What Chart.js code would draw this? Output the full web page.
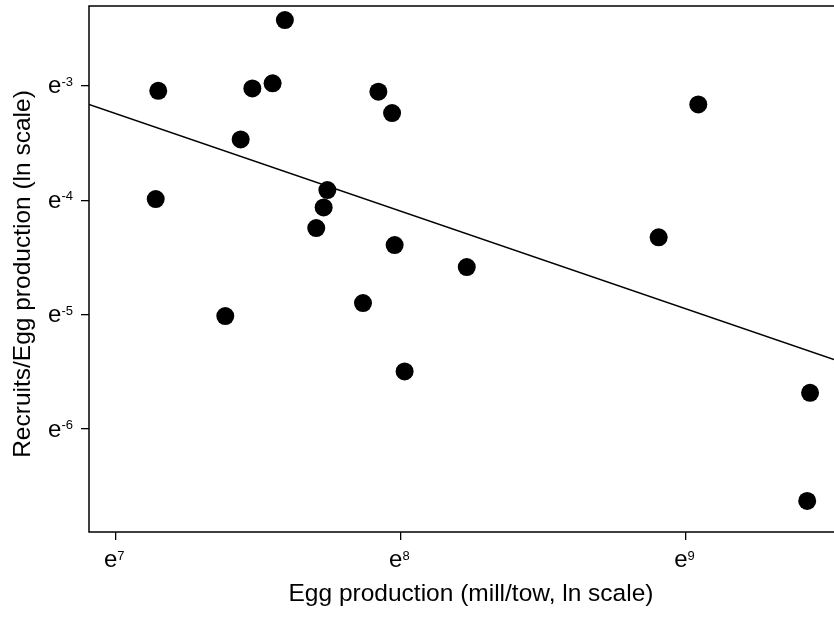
<!DOCTYPE html>
<html lang="en">
<head>
    <meta charset="UTF-8">
    <title>Recruits per egg vs egg production</title>
    <script src="https://cdn.jsdelivr.net/npm/chart.js"></script>
    <style>
        html, body { margin: 0; padding: 0; background: #fff; }
        #wrap { width: 834px; height: 620px; }
    </style>
</head>
<body>
    <div id="wrap"><canvas id="eggChart"></canvas></div>

    <script>
        // values are natural logs (axes are ln scale)
        const lnEggs = [7.593, 7.149, 7.479, 7.550, 7.438, 7.140, 7.921, 7.969, 7.742, 7.729,
                        7.703, 7.978, 8.231, 7.867, 8.013, 9.043, 8.904, 9.435, 9.425, 7.384];
        const lnRecruitsPerEgg = [-2.426, -3.044, -3.023, -2.979, -3.469, -3.990, -3.052, -3.239, -3.912, -4.063,
                                  -4.244, -4.392, -4.585, -4.899, -5.497, -3.163, -4.325, -5.684, -6.628, -5.013];

        // fitted line, read at both ends of the x range
        const fitX = [6.906, 9.519];
        const fitY = [-3.163, -5.392];

        const xTicks = [7, 8, 9];
        const yTicks = [-6, -5, -4, -3];

        const FONT = "'Liberation Sans', Arial, sans-serif";

        const points = lnEggs.map((x, i) => ({ x: x, y: lnRecruitsPerEgg[i] }));
        const fitLine = fitX.map((x, i) => ({ x: x, y: fitY[i] }));

        function drawPower(ctx, base, exp, xRight, xCenter, baseline) {
            ctx.font = "24px " + FONT;
            const wb = ctx.measureText(base).width;
            ctx.font = "13px " + FONT;
            const we = ctx.measureText(exp).width;
            let x0 = xRight !== null ? xRight - wb - we : xCenter - (wb + we) / 2;
            ctx.textAlign = "left";
            ctx.textBaseline = "alphabetic";
            ctx.font = "24px " + FONT;
            ctx.fillText(base, x0, baseline);
            ctx.font = "13px " + FONT;
            ctx.fillText(exp, x0 + wb, baseline - 7.5);
        }

        const framePlugin = {
            id: "frame",
            afterDraw(chart) {
                const ctx = chart.ctx;
                const a = chart.chartArea;
                const xs = chart.scales.x, ys = chart.scales.y;
                ctx.save();
                ctx.strokeStyle = "#000";
                ctx.lineWidth = 1.5;
                ctx.beginPath();
                ctx.moveTo(chart.width + 2, a.top);
                ctx.lineTo(a.left, a.top);
                ctx.lineTo(a.left, a.bottom);
                ctx.lineTo(chart.width + 2, a.bottom);
                ctx.stroke();

                ctx.fillStyle = "#000";
                xTicks.forEach(v => {
                    drawPower(ctx, "e", String(v), null, xs.getPixelForValue(v) - 1.5, a.bottom + 35);
                });
                yTicks.forEach(v => {
                    drawPower(ctx, "e", String(v), a.left - 16, null, ys.getPixelForValue(v) + 7.5);
                });

                // axis titles
                ctx.font = "24.5px " + FONT;
                ctx.textAlign = "center";
                ctx.textBaseline = "alphabetic";
                ctx.fillText("Egg production (mill/tow, ln scale)", 471, 601);
                ctx.translate(30, 274);
                ctx.rotate(-Math.PI / 2);
                ctx.fillText("Recruits/Egg production (ln scale)", 0, 0);
                ctx.restore();
            }
        };

        const ctx = document.getElementById("eggChart").getContext("2d");
        new Chart(ctx, {
            type: "scatter",
            data: {
                datasets: [{
                    type: "line",
                    data: fitLine,
                    borderColor: "#000",
                    borderWidth: 1.5,
                    pointRadius: 0,
                    fill: false
                }, {
                    data: points,
                    backgroundColor: "#000",
                    borderWidth: 0,
                    pointRadius: 9,
                    pointHoverRadius: 9
                }]
            },
            options: {
                responsive: true,
                maintainAspectRatio: false,
                animation: false,
                events: [],
                layout: { autoPadding: false, padding: { top: 6, right: 0, left: 0, bottom: 0 } },
                plugins: { legend: { display: false }, tooltip: { enabled: false } },
                scales: {
                    x: {
                        type: "linear",
                        min: 6.906,
                        max: 9.519,
                        afterBuildTicks: s => { s.ticks = xTicks.map(v => ({ value: v })); },
                        afterFit: s => { s.height = 88; },
                        ticks: { display: false },
                        border: { display: false },
                        grid: { drawOnChartArea: false, drawTicks: true, tickLength: 8, color: "#000", lineWidth: 1.3 }
                    },
                    y: {
                        type: "linear",
                        min: -6.900,
                        max: -2.303,
                        afterBuildTicks: s => { s.ticks = yTicks.map(v => ({ value: v })); },
                        afterFit: s => { s.width = 89; },
                        ticks: { display: false },
                        border: { display: false },
                        grid: { drawOnChartArea: false, drawTicks: true, tickLength: 8, color: "#000", lineWidth: 1.3 }
                    }
                }
            },
            plugins: [framePlugin]
        });
    </script>
</body>
</html>
